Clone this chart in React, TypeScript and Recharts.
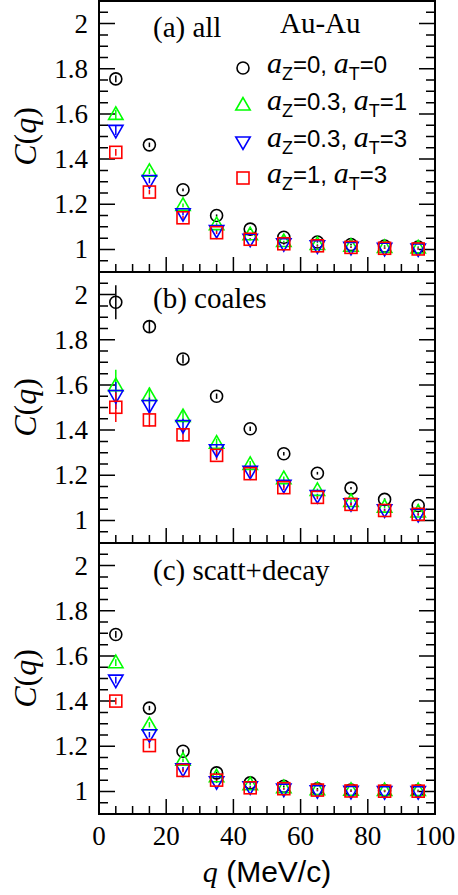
import React from 'react';
import { ScatterChart, Scatter, XAxis, YAxis, ErrorBar, ReferenceArea } from 'recharts';

// ---------- data ----------
const qValues = [5, 15, 25, 35, 45, 55, 65, 75, 85, 95];

const xTicks = [0, 5, 10, 15, 20, 25, 30, 35, 40, 45, 50, 55, 60, 65, 70, 75, 80, 85, 90, 95, 100];
const xMajorTicks = [0, 20, 40, 60, 80, 100];
const xTickLabels = ['0', '20', '40', '60', '80', '100'];

const yTicks = [0.95, 1, 1.05, 1.1, 1.15, 1.2, 1.25, 1.3, 1.35, 1.4, 1.45, 1.5, 1.55, 1.6, 1.65, 1.7, 1.75, 1.8, 1.85, 1.9, 1.95, 2, 2.05];
const yMajorTicks = [1, 1.2, 1.4, 1.6, 1.8, 2];
const yTickLabels = ['1', '1.2', '1.4', '1.6', '1.8', '2'];

const seriesColors = ['#000000', '#00ff00', '#0000ff', '#ff0000'];
const legendAz = ['0', '0.3', '0.3', '1'];
const legendAt = ['0', '1', '3', '3'];
const panelLabels = ['(a) all', '(b) coales', '(c) scatt+decay'];
const systemLabel = 'Au-Au';

// panel (a) all
const allA0 = [1.755, 1.463, 1.264, 1.150, 1.090, 1.054, 1.033, 1.022, 1.015, 1.010];
const allA1 = [1.598, 1.346, 1.195, 1.110, 1.065, 1.035, 1.022, 1.014, 1.009, 1.007];
const allA2 = [1.527, 1.305, 1.158, 1.084, 1.045, 1.025, 1.016, 1.009, 1.005, 1.002];
const allA3 = [1.430, 1.254, 1.140, 1.074, 1.045, 1.025, 1.016, 1.009, 1.005, 1.002];
const errA0 = [0.015, 0.010, 0.006, 0.005, 0.004, 0.003, 0.003, 0.003, 0.003, 0.003];
const errA1 = [0.020, 0.012, 0.008, 0.006, 0.004, 0.003, 0.003, 0.003, 0.003, 0.003];
const errA2 = [0.020, 0.012, 0.008, 0.006, 0.004, 0.003, 0.003, 0.003, 0.003, 0.003];
const errA3 = [0.015, 0.010, 0.008, 0.006, 0.004, 0.003, 0.003, 0.003, 0.003, 0.003];

// panel (b) coales
const coaB0 = [1.966, 1.858, 1.715, 1.550, 1.406, 1.295, 1.209, 1.143, 1.093, 1.066];
const coaB1 = [1.597, 1.553, 1.460, 1.342, 1.248, 1.185, 1.133, 1.084, 1.059, 1.037];
const coaB2 = [1.553, 1.509, 1.420, 1.313, 1.217, 1.155, 1.110, 1.074, 1.047, 1.027];
const coaB3 = [1.501, 1.445, 1.379, 1.288, 1.207, 1.145, 1.102, 1.071, 1.044, 1.027];
const errB0 = [0.075, 0.025, 0.020, 0.012, 0.010, 0.008, 0.006, 0.005, 0.005, 0.005];
const errB1 = [0.070, 0.035, 0.030, 0.020, 0.015, 0.010, 0.008, 0.006, 0.005, 0.005];
const errB2 = [0.060, 0.035, 0.030, 0.020, 0.015, 0.010, 0.008, 0.006, 0.005, 0.005];
const errB3 = [0.065, 0.030, 0.030, 0.020, 0.015, 0.010, 0.008, 0.006, 0.005, 0.005];

// panel (c) scatt+decay
const scdC0 = [1.695, 1.369, 1.178, 1.082, 1.038, 1.023, 1.012, 1.006, 1.004, 1.004];
const scdC1 = [1.570, 1.295, 1.138, 1.065, 1.030, 1.017, 1.008, 1.005, 1.004, 1.004];
const scdC2 = [1.493, 1.251, 1.100, 1.043, 1.020, 1.010, 1.003, 1.000, 0.999, 0.999];
const scdC3 = [1.400, 1.203, 1.093, 1.050, 1.016, 1.012, 1.006, 1.002, 1.001, 1.001];
const errC0 = [0.015, 0.010, 0.008, 0.005, 0.004, 0.003, 0.003, 0.003, 0.003, 0.003];
const errC1 = [0.015, 0.012, 0.008, 0.006, 0.004, 0.003, 0.003, 0.003, 0.003, 0.003];
const errC2 = [0.015, 0.012, 0.008, 0.006, 0.004, 0.003, 0.003, 0.003, 0.003, 0.003];
const errC3 = [0.015, 0.012, 0.008, 0.006, 0.004, 0.003, 0.003, 0.003, 0.003, 0.003];

// ---------- layout ----------
const SERIF = 'Liberation Serif';
const SANS = 'Liberation Sans';
const W = 458;
const H = 895;
const M = { top: 1, bottom: 81, left: 99, right: 23 };
const PLOT_L = M.left;
const PLOT_R = W - M.right;
const PLOT_T = M.top;
const PLOT_B = H - M.bottom;
const SPAN = 3.6;
// each panel shows C in [0.9, 2.1]; the three stacked panels share one plot,
// so each panel's y axis spans 3.6 units and its own band is 1.2 units.
const panels = [
  { id: 'a', domain: [-1.5, 2.1], label: panelLabels[0], labelY: 37,
    series: [[allA0, errA0], [allA1, errA1], [allA2, errA2], [allA3, errA3]], showX: false },
  { id: 'b', domain: [-0.3, 3.3], label: panelLabels[1], labelY: 308,
    series: [[coaB0, errB0], [coaB1, errB1], [coaB2, errB2], [coaB3, errB3]], showX: false },
  { id: 'c', domain: [0.9, 4.5], label: panelLabels[2], labelY: 580,
    series: [[scdC0, errC0], [scdC1, errC1], [scdC2, errC2], [scdC3, errC3]], showX: true },
];

// axis geometry (same linear mapping as the chart's axes) for tick decorations
const yPix = (dom: number[], v: number) => PLOT_T + ((dom[1] - v) / SPAN) * (PLOT_B - PLOT_T);
const xPix = (v: number) => PLOT_L + (v / 100) * (PLOT_R - PLOT_L);

const build = (vals: number[], errs: number[]) =>
  qValues.map((q, i) => ({ q, c: vals[i], e: errs[i] }));

// ---------- markers ----------
const MarkCircle = ({ cx, cy, color }: any) => (
  <circle cx={cx} cy={cy} r={6} fill="none" stroke={color} strokeWidth={1.6} />
);
const MarkUp = ({ cx, cy, color }: any) => (
  <polygon
    points={`${cx},${cy - 7.5} ${cx - 7.2},${cy + 5} ${cx + 7.2},${cy + 5}`}
    fill="none"
    stroke={color}
    strokeWidth={1.6}
  />
);
const MarkDown = ({ cx, cy, color }: any) => (
  <polygon
    points={`${cx - 7.2},${cy - 5} ${cx + 7.2},${cy - 5} ${cx},${cy + 7.5}`}
    fill="none"
    stroke={color}
    strokeWidth={1.6}
  />
);
const MarkSquare = ({ cx, cy, color }: any) => (
  <rect x={cx - 6} y={cy - 6} width={12} height={12} fill="none" stroke={color} strokeWidth={1.6} />
);
const markers = [MarkCircle, MarkUp, MarkDown, MarkSquare];

const findIdx = (arr: number[], v: number) => arr.findIndex((a) => Math.abs(a - v) < 1e-6);

const PanelTicks = ({ dom, showX }: { dom: number[]; showX: boolean }) => {
  const yb = yPix(dom, 0.9);
  return (
    <g>
      {yTicks.map((v) => {
        const y = yPix(dom, v);
        const mi = findIdx(yMajorTicks, v);
        const len = mi >= 0 ? 16 : 9;
        return (
          <g key={`yt${v}`}>
            <path d={`M${PLOT_L},${y}H${PLOT_L + len}M${PLOT_R},${y}H${PLOT_R - len}`} stroke="#000" strokeWidth={1.5} fill="none" />
            {mi >= 0 && (
              <text x={PLOT_L - 11} y={y + 9} textAnchor="end" fontSize={27} fontFamily={SERIF} fill="#000">
                {yTickLabels[mi]}
              </text>
            )}
          </g>
        );
      })}
      {xTicks.map((v) => {
        const x = xPix(v);
        const mi = findIdx(xMajorTicks, v);
        const len = mi >= 0 ? 15 : 8;
        return (
          <g key={`xt${v}`}>
            <path d={`M${x},${yb}V${yb - len}`} stroke="#000" strokeWidth={1.5} fill="none" />
            {showX && mi >= 0 && (
              <text x={x} y={yb + 31} textAnchor="middle" fontSize={27} fontFamily={SERIF} fill="#000">
                {xTickLabels[mi]}
              </text>
            )}
          </g>
        );
      })}
    </g>
  );
};

const legendBaselines = [73, 110, 147, 183];

export default function App() {
  return (
    <div style={{ position: 'absolute', left: 0, top: 0, width: W, height: H, background: '#fff' }}>
      <ScatterChart width={W} height={H} margin={M}>
        <XAxis dataKey="q" type="number" domain={[0, 100]} hide allowDataOverflow />
        {panels.map((pn) => (
          <YAxis
            key={`ax${pn.id}`}
            yAxisId={pn.id}
            dataKey="c"
            type="number"
            domain={pn.domain}
            hide
            allowDataOverflow
          />
        ))}
        {panels.map((pn) => (
          <ReferenceArea
            key={`fr${pn.id}`}
            yAxisId={pn.id}
            x1={0}
            x2={100}
            y1={0.9}
            y2={2.1}
            fill="none"
            stroke="#000"
            strokeWidth={2}
            ifOverflow="visible"
          />
        ))}
        {panels.map((pn) =>
          pn.series.map((s, i) => {
            const Mk = markers[i];
            const color = seriesColors[i];
            return (
              <Scatter
                key={`s${pn.id}${i}`}
                yAxisId={pn.id}
                data={build(s[0], s[1])}
                isAnimationActive={false}
                fill={color}
                shape={(p: any) => <Mk cx={p.cx} cy={p.cy} color={color} />}
              >
                <ErrorBar dataKey="e" direction="y" width={0} stroke={color} strokeWidth={1.5} />
              </Scatter>
            );
          })
        )}
        {panels.map((pn) => (
          <PanelTicks key={`tk${pn.id}`} dom={pn.domain} showX={pn.showX} />
        ))}
        {panels.map((pn) => {
          const cy = (yPix(pn.domain, 0.9) + yPix(pn.domain, 2.1)) / 2;
          return (
            <text
              key={`yl${pn.id}`}
              x={36}
              y={cy}
              transform={`rotate(-90 36 ${cy})`}
              textAnchor="middle"
              fontSize={32}
              fontFamily={SERIF}
              fill="#000"
            >
              <tspan fontStyle="italic">C</tspan>
              <tspan>(</tspan>
              <tspan fontStyle="italic">q</tspan>
              <tspan>)</tspan>
            </text>
          );
        })}
        {panels.map((pn) => (
          <text key={`pl${pn.id}`} x={153} y={pn.labelY} fontSize={29} fontFamily={SERIF} fill="#000">
            {pn.label}
          </text>
        ))}
        <text x={267} y={882} textAnchor="middle" fontSize={30} fill="#000">
          <tspan fontFamily={SERIF} fontStyle="italic">q</tspan>
          <tspan fontFamily={SANS}> (MeV/c)</tspan>
        </text>
        <text x={280} y={33} fontSize={29} fontFamily={SERIF} fill="#000">
          {systemLabel}
        </text>
        {legendAz.map((az, i) => {
          const Mk = markers[i];
          const by = legendBaselines[i];
          return (
            <g key={`lg${i}`}>
              <Mk cx={243} cy={by - 5} color={seriesColors[i]} />
              <text x={267} y={by} fontSize={24} fontFamily={SANS} fill="#000">
                <tspan fontFamily={SERIF} fontStyle="italic" fontSize={30}>a</tspan>
                <tspan fontFamily={SANS} fontSize={18} dy={7}>Z</tspan>
                <tspan fontFamily={SANS} dy={-7}>{`=${az}, `}</tspan>
                <tspan fontFamily={SERIF} fontStyle="italic" fontSize={30}>a</tspan>
                <tspan fontFamily={SANS} fontSize={18} dy={7}>T</tspan>
                <tspan fontFamily={SANS} dy={-7}>{`=${legendAt[i]}`}</tspan>
              </text>
            </g>
          );
        })}
      </ScatterChart>
    </div>
  );
}
